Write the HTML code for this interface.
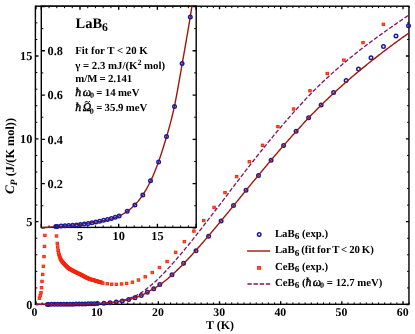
<!DOCTYPE html>
<html><head><meta charset="utf-8"><title>LaB6 / CeB6 specific heat</title>
<style>html,body{margin:0;padding:0;background:#fff;width:415px;height:334px;overflow:hidden;font-family:"Liberation Serif",serif}</style>
</head><body>
<svg width="415" height="334" viewBox="0 0 415 334" style="display:block;position:absolute;left:0;top:0;will-change:transform" font-family="'Liberation Serif', serif" font-weight="bold" text-rendering="geometricPrecision">
<rect width="415" height="334" fill="#fff"/>
<defs>
<clipPath id="cm"><rect x="35.4" y="6.2" width="373.55" height="299.1"/></clipPath>
<clipPath id="ci"><rect x="41.3" y="6.2" width="154.89999999999998" height="222.20000000000002"/></clipPath>
</defs>
<path d="M36.00 304.3 v-3.1 M36.00 6.2 v3.1 M97.17 304.3 v-3.1 M97.17 6.2 v3.1 M158.34 304.3 v-3.1 M158.34 6.2 v3.1 M219.51 304.3 v-3.1 M219.51 6.2 v3.1 M280.68 304.3 v-3.1 M280.68 6.2 v3.1 M341.85 304.3 v-3.1 M341.85 6.2 v3.1 M403.02 304.3 v-3.1 M403.02 6.2 v3.1 M35.4 304.50 h3.1 M408.95 304.50 h-3.1 M35.4 221.67 h3.1 M408.95 221.67 h-3.1 M35.4 138.84 h3.1 M408.95 138.84 h-3.1 M35.4 56.01 h3.1 M408.95 56.01 h-3.1" stroke="#000" stroke-width="1.35" fill="none"/>
<path d="M42.12 304.3 v-1.9 M42.12 6.2 v1.9 M48.23 304.3 v-1.9 M48.23 6.2 v1.9 M54.35 304.3 v-1.9 M54.35 6.2 v1.9 M60.47 304.3 v-1.9 M60.47 6.2 v1.9 M66.59 304.3 v-1.9 M66.59 6.2 v1.9 M72.70 304.3 v-1.9 M72.70 6.2 v1.9 M78.82 304.3 v-1.9 M78.82 6.2 v1.9 M84.94 304.3 v-1.9 M84.94 6.2 v1.9 M91.05 304.3 v-1.9 M91.05 6.2 v1.9 M103.29 304.3 v-1.9 M103.29 6.2 v1.9 M109.40 304.3 v-1.9 M109.40 6.2 v1.9 M115.52 304.3 v-1.9 M115.52 6.2 v1.9 M121.64 304.3 v-1.9 M121.64 6.2 v1.9 M127.75 304.3 v-1.9 M127.75 6.2 v1.9 M133.87 304.3 v-1.9 M133.87 6.2 v1.9 M139.99 304.3 v-1.9 M139.99 6.2 v1.9 M146.11 304.3 v-1.9 M146.11 6.2 v1.9 M152.22 304.3 v-1.9 M152.22 6.2 v1.9 M164.46 304.3 v-1.9 M164.46 6.2 v1.9 M170.57 304.3 v-1.9 M170.57 6.2 v1.9 M176.69 304.3 v-1.9 M176.69 6.2 v1.9 M182.81 304.3 v-1.9 M182.81 6.2 v1.9 M188.93 304.3 v-1.9 M188.93 6.2 v1.9 M195.04 304.3 v-1.9 M195.04 6.2 v1.9 M201.16 304.3 v-1.9 M201.16 6.2 v1.9 M207.28 304.3 v-1.9 M207.28 6.2 v1.9 M213.39 304.3 v-1.9 M213.39 6.2 v1.9 M225.63 304.3 v-1.9 M225.63 6.2 v1.9 M231.74 304.3 v-1.9 M231.74 6.2 v1.9 M237.86 304.3 v-1.9 M237.86 6.2 v1.9 M243.98 304.3 v-1.9 M243.98 6.2 v1.9 M250.09 304.3 v-1.9 M250.09 6.2 v1.9 M256.21 304.3 v-1.9 M256.21 6.2 v1.9 M262.33 304.3 v-1.9 M262.33 6.2 v1.9 M268.45 304.3 v-1.9 M268.45 6.2 v1.9 M274.56 304.3 v-1.9 M274.56 6.2 v1.9 M286.80 304.3 v-1.9 M286.80 6.2 v1.9 M292.91 304.3 v-1.9 M292.91 6.2 v1.9 M299.03 304.3 v-1.9 M299.03 6.2 v1.9 M305.15 304.3 v-1.9 M305.15 6.2 v1.9 M311.26 304.3 v-1.9 M311.26 6.2 v1.9 M317.38 304.3 v-1.9 M317.38 6.2 v1.9 M323.50 304.3 v-1.9 M323.50 6.2 v1.9 M329.62 304.3 v-1.9 M329.62 6.2 v1.9 M335.73 304.3 v-1.9 M335.73 6.2 v1.9 M347.97 304.3 v-1.9 M347.97 6.2 v1.9 M354.08 304.3 v-1.9 M354.08 6.2 v1.9 M360.20 304.3 v-1.9 M360.20 6.2 v1.9 M366.32 304.3 v-1.9 M366.32 6.2 v1.9 M372.44 304.3 v-1.9 M372.44 6.2 v1.9 M378.55 304.3 v-1.9 M378.55 6.2 v1.9 M384.67 304.3 v-1.9 M384.67 6.2 v1.9 M390.79 304.3 v-1.9 M390.79 6.2 v1.9 M396.90 304.3 v-1.9 M396.90 6.2 v1.9 M409.14 304.3 v-1.9 M409.14 6.2 v1.9 M35.4 287.93 h1.9 M408.95 287.93 h-1.9 M35.4 271.37 h1.9 M408.95 271.37 h-1.9 M35.4 254.80 h1.9 M408.95 254.80 h-1.9 M35.4 238.24 h1.9 M408.95 238.24 h-1.9 M35.4 205.10 h1.9 M408.95 205.10 h-1.9 M35.4 188.54 h1.9 M408.95 188.54 h-1.9 M35.4 171.97 h1.9 M408.95 171.97 h-1.9 M35.4 155.41 h1.9 M408.95 155.41 h-1.9 M35.4 122.27 h1.9 M408.95 122.27 h-1.9 M35.4 105.71 h1.9 M408.95 105.71 h-1.9 M35.4 89.14 h1.9 M408.95 89.14 h-1.9 M35.4 72.58 h1.9 M408.95 72.58 h-1.9 M35.4 39.44 h1.9 M408.95 39.44 h-1.9 M35.4 22.88 h1.9 M408.95 22.88 h-1.9 M35.4 6.31 h1.9 M408.95 6.31 h-1.9" stroke="#000" stroke-width="1.0" fill="none"/>
<rect x="35.4" y="6.2" width="373.55" height="298.1" fill="none" stroke="#000" stroke-width="1.4"/>
<circle cx="47.44" cy="304.40" r="1.75" fill="none" stroke="#1a1a9e" stroke-width="1.5"/>
<circle cx="48.54" cy="304.39" r="1.75" fill="none" stroke="#1a1a9e" stroke-width="1.5"/>
<circle cx="51.60" cy="304.37" r="1.75" fill="none" stroke="#1a1a9e" stroke-width="1.5"/>
<circle cx="54.66" cy="304.35" r="1.75" fill="none" stroke="#1a1a9e" stroke-width="1.5"/>
<circle cx="57.72" cy="304.33" r="1.75" fill="none" stroke="#1a1a9e" stroke-width="1.5"/>
<circle cx="60.77" cy="304.30" r="1.75" fill="none" stroke="#1a1a9e" stroke-width="1.5"/>
<circle cx="63.83" cy="304.28" r="1.75" fill="none" stroke="#1a1a9e" stroke-width="1.5"/>
<circle cx="66.89" cy="304.25" r="1.75" fill="none" stroke="#1a1a9e" stroke-width="1.5"/>
<circle cx="69.95" cy="304.21" r="1.75" fill="none" stroke="#1a1a9e" stroke-width="1.5"/>
<circle cx="73.01" cy="304.17" r="1.75" fill="none" stroke="#1a1a9e" stroke-width="1.5"/>
<circle cx="76.07" cy="304.11" r="1.75" fill="none" stroke="#1a1a9e" stroke-width="1.5"/>
<circle cx="79.12" cy="304.06" r="1.75" fill="none" stroke="#1a1a9e" stroke-width="1.5"/>
<circle cx="82.18" cy="304.00" r="1.75" fill="none" stroke="#1a1a9e" stroke-width="1.5"/>
<circle cx="85.24" cy="303.93" r="1.75" fill="none" stroke="#1a1a9e" stroke-width="1.5"/>
<circle cx="88.30" cy="303.87" r="1.75" fill="none" stroke="#1a1a9e" stroke-width="1.5"/>
<circle cx="91.36" cy="303.79" r="1.75" fill="none" stroke="#1a1a9e" stroke-width="1.5"/>
<circle cx="94.42" cy="303.71" r="1.75" fill="none" stroke="#1a1a9e" stroke-width="1.5"/>
<circle cx="97.48" cy="303.61" r="1.75" fill="none" stroke="#1a1a9e" stroke-width="1.5"/>
<circle cx="103.89" cy="303.26" r="1.75" fill="none" stroke="#1a1a9e" stroke-width="1.5"/>
<circle cx="109.97" cy="302.78" r="1.75" fill="none" stroke="#1a1a9e" stroke-width="1.5"/>
<circle cx="116.22" cy="302.05" r="1.75" fill="none" stroke="#1a1a9e" stroke-width="1.5"/>
<circle cx="122.30" cy="300.98" r="1.75" fill="none" stroke="#1a1a9e" stroke-width="1.5"/>
<circle cx="128.70" cy="299.58" r="1.75" fill="none" stroke="#1a1a9e" stroke-width="1.5"/>
<circle cx="134.95" cy="297.65" r="1.75" fill="none" stroke="#1a1a9e" stroke-width="1.5"/>
<circle cx="141.27" cy="295.41" r="1.75" fill="none" stroke="#1a1a9e" stroke-width="1.5"/>
<circle cx="147.28" cy="292.21" r="1.75" fill="none" stroke="#1a1a9e" stroke-width="1.5"/>
<circle cx="153.76" cy="288.72" r="1.75" fill="none" stroke="#1a1a9e" stroke-width="1.5"/>
<circle cx="159.80" cy="284.40" r="1.75" fill="none" stroke="#1a1a9e" stroke-width="1.5"/>
<circle cx="172.00" cy="274.70" r="1.75" fill="none" stroke="#1a1a9e" stroke-width="1.5"/>
<circle cx="183.60" cy="263.20" r="1.75" fill="none" stroke="#1a1a9e" stroke-width="1.5"/>
<circle cx="196.00" cy="250.70" r="1.75" fill="none" stroke="#1a1a9e" stroke-width="1.5"/>
<circle cx="208.60" cy="236.30" r="1.75" fill="none" stroke="#1a1a9e" stroke-width="1.5"/>
<circle cx="221.10" cy="220.90" r="1.75" fill="none" stroke="#1a1a9e" stroke-width="1.5"/>
<circle cx="233.50" cy="205.40" r="1.75" fill="none" stroke="#1a1a9e" stroke-width="1.5"/>
<circle cx="246.00" cy="190.20" r="1.75" fill="none" stroke="#1a1a9e" stroke-width="1.5"/>
<circle cx="258.50" cy="175.50" r="1.75" fill="none" stroke="#1a1a9e" stroke-width="1.5"/>
<circle cx="271.10" cy="160.20" r="1.75" fill="none" stroke="#1a1a9e" stroke-width="1.5"/>
<circle cx="283.60" cy="145.50" r="1.75" fill="none" stroke="#1a1a9e" stroke-width="1.5"/>
<circle cx="296.10" cy="131.30" r="1.75" fill="none" stroke="#1a1a9e" stroke-width="1.5"/>
<circle cx="308.60" cy="117.70" r="1.75" fill="none" stroke="#1a1a9e" stroke-width="1.5"/>
<circle cx="321.10" cy="105.00" r="1.75" fill="none" stroke="#1a1a9e" stroke-width="1.5"/>
<circle cx="333.60" cy="92.60" r="1.75" fill="none" stroke="#1a1a9e" stroke-width="1.5"/>
<circle cx="346.10" cy="80.50" r="1.75" fill="none" stroke="#1a1a9e" stroke-width="1.5"/>
<circle cx="358.50" cy="69.00" r="1.75" fill="none" stroke="#1a1a9e" stroke-width="1.5"/>
<circle cx="371.00" cy="57.70" r="1.75" fill="none" stroke="#1a1a9e" stroke-width="1.5"/>
<circle cx="383.50" cy="46.60" r="1.75" fill="none" stroke="#1a1a9e" stroke-width="1.5"/>
<circle cx="396.00" cy="35.90" r="1.75" fill="none" stroke="#1a1a9e" stroke-width="1.5"/>
<circle cx="408.50" cy="25.70" r="1.75" fill="none" stroke="#1a1a9e" stroke-width="1.5"/>
<path clip-path="url(#cm)" d="M36.00 304.50 L36.94 304.49 L37.89 304.48 L38.83 304.48 L39.77 304.47 L40.71 304.46 L41.66 304.46 L42.60 304.45 L43.54 304.44 L44.49 304.43 L45.43 304.43 L46.37 304.42 L47.31 304.41 L48.26 304.41 L49.20 304.40 L50.14 304.39 L51.09 304.38 L52.03 304.37 L52.97 304.37 L53.91 304.36 L54.86 304.35 L55.80 304.34 L56.74 304.33 L57.69 304.32 L58.63 304.31 L59.57 304.31 L60.51 304.30 L61.46 304.29 L62.40 304.28 L63.34 304.27 L64.29 304.26 L65.23 304.25 L66.17 304.24 L67.11 304.22 L68.06 304.21 L69.00 304.20 L69.94 304.19 L70.89 304.18 L71.83 304.17 L72.77 304.15 L73.71 304.14 L74.66 304.13 L75.60 304.11 L76.54 304.10 L77.49 304.09 L78.43 304.07 L79.37 304.06 L80.31 304.04 L81.26 304.03 L82.20 304.01 L83.14 304.00 L84.09 303.98 L85.03 303.96 L85.97 303.95 L86.91 303.93 L87.86 303.91 L88.80 303.89 L89.74 303.86 L90.69 303.84 L91.63 303.82 L92.57 303.79 L93.51 303.76 L94.46 303.73 L95.40 303.69 L96.34 303.66 L97.28 303.62 L98.23 303.58 L99.17 303.53 L100.11 303.48 L101.06 303.43 L102.00 303.38 L102.94 303.32 L103.88 303.26 L104.83 303.20 L105.77 303.13 L106.71 303.06 L107.66 302.98 L108.60 302.90 L109.54 302.81 L110.48 302.72 L111.43 302.62 L112.37 302.52 L113.31 302.41 L114.26 302.29 L115.20 302.17 L116.14 302.04 L117.08 301.91 L118.03 301.76 L118.97 301.61 L119.91 301.45 L120.86 301.28 L121.80 301.11 L122.74 300.92 L123.68 300.73 L124.63 300.53 L125.57 300.32 L126.51 300.09 L127.46 299.86 L128.40 299.62 L129.34 299.37 L130.28 299.10 L131.23 298.83 L132.17 298.55 L133.11 298.27 L134.06 297.97 L135.00 297.67 L135.94 297.37 L136.88 297.06 L137.83 296.73 L138.77 296.39 L139.71 296.03 L140.66 295.64 L141.60 295.22 L142.54 294.77 L143.48 294.29 L144.43 293.80 L145.37 293.29 L146.31 292.78 L147.26 292.27 L148.20 291.76 L149.14 291.25 L150.08 290.74 L151.03 290.23 L151.97 289.70 L152.91 289.17 L153.86 288.62 L154.80 288.06 L155.74 287.47 L156.68 286.87 L157.63 286.26 L158.57 285.62 L159.51 284.97 L160.46 284.30 L161.40 283.62 L162.34 282.92 L163.28 282.21 L164.23 281.48 L165.17 280.73 L166.11 279.97 L167.06 279.20 L168.00 278.42 L168.94 277.62 L169.88 276.80 L170.83 275.98 L171.77 275.14 L172.71 274.29 L173.66 273.43 L174.60 272.55 L175.54 271.67 L176.48 270.77 L177.43 269.87 L178.37 268.95 L179.31 268.02 L180.26 267.09 L181.20 266.14 L182.14 265.18 L183.08 264.22 L184.03 263.25 L184.97 262.27 L185.91 261.28 L186.86 260.28 L187.80 259.28 L188.74 258.26 L189.68 257.25 L190.63 256.22 L191.57 255.19 L192.51 254.16 L193.46 253.11 L194.40 252.07 L195.34 251.01 L196.28 249.96 L197.23 248.90 L198.17 247.83 L199.11 246.76 L200.06 245.69 L201.00 244.61 L201.94 243.53 L202.88 242.45 L203.83 241.36 L204.77 240.27 L205.71 239.17 L206.66 238.07 L207.60 236.97 L208.54 235.86 L209.48 234.76 L210.43 233.64 L211.37 232.53 L212.31 231.41 L213.26 230.29 L214.20 229.17 L215.14 228.04 L216.08 226.92 L217.03 225.79 L217.97 224.65 L218.91 223.52 L219.85 222.38 L220.80 221.24 L221.74 220.10 L222.68 218.96 L223.63 217.82 L224.57 216.67 L225.51 215.52 L226.45 214.37 L227.40 213.22 L228.34 212.07 L229.28 210.92 L230.23 209.77 L231.17 208.61 L232.11 207.46 L233.05 206.30 L234.00 205.14 L234.94 203.99 L235.88 202.83 L236.83 201.67 L237.77 200.51 L238.71 199.35 L239.65 198.20 L240.60 197.04 L241.54 195.88 L242.48 194.72 L243.43 193.56 L244.37 192.40 L245.31 191.25 L246.25 190.09 L247.20 188.93 L248.14 187.78 L249.08 186.62 L250.03 185.47 L250.97 184.32 L251.91 183.17 L252.85 182.02 L253.80 180.87 L254.74 179.72 L255.68 178.57 L256.63 177.43 L257.57 176.29 L258.51 175.15 L259.45 174.01 L260.40 172.87 L261.34 171.73 L262.28 170.60 L263.23 169.47 L264.17 168.34 L265.11 167.21 L266.05 166.09 L267.00 164.97 L267.94 163.84 L268.88 162.73 L269.83 161.61 L270.77 160.49 L271.71 159.38 L272.65 158.27 L273.60 157.16 L274.54 156.06 L275.48 154.96 L276.43 153.86 L277.37 152.76 L278.31 151.66 L279.25 150.57 L280.20 149.48 L281.14 148.39 L282.08 147.30 L283.03 146.22 L283.97 145.14 L284.91 144.06 L285.85 142.98 L286.80 141.91 L287.74 140.84 L288.68 139.77 L289.63 138.71 L290.57 137.65 L291.51 136.59 L292.45 135.53 L293.40 134.48 L294.34 133.43 L295.28 132.38 L296.23 131.34 L297.17 130.29 L298.11 129.25 L299.05 128.22 L300.00 127.19 L300.94 126.16 L301.88 125.13 L302.83 124.11 L303.77 123.09 L304.71 122.07 L305.65 121.06 L306.60 120.04 L307.54 119.04 L308.48 118.03 L309.43 117.04 L310.37 116.05 L311.31 115.07 L312.25 114.10 L313.20 113.13 L314.14 112.16 L315.08 111.20 L316.03 110.25 L316.97 109.30 L317.91 108.36 L318.85 107.42 L319.80 106.48 L320.74 105.55 L321.68 104.62 L322.63 103.70 L323.57 102.79 L324.51 101.87 L325.45 100.97 L326.40 100.06 L327.34 99.16 L328.28 98.27 L329.23 97.37 L330.17 96.49 L331.11 95.60 L332.05 94.72 L333.00 93.85 L333.94 92.97 L334.88 92.11 L335.82 91.24 L336.77 90.38 L337.71 89.52 L338.65 88.67 L339.60 87.82 L340.54 86.97 L341.48 86.13 L342.42 85.29 L343.37 84.45 L344.31 83.62 L345.25 82.79 L346.20 81.97 L347.14 81.14 L348.08 80.32 L349.02 79.51 L349.97 78.70 L350.91 77.89 L351.85 77.08 L352.80 76.28 L353.74 75.48 L354.68 74.68 L355.62 73.88 L356.57 73.09 L357.51 72.31 L358.45 71.52 L359.40 70.74 L360.34 69.96 L361.28 69.18 L362.22 68.41 L363.17 67.64 L364.11 66.87 L365.05 66.10 L366.00 65.34 L366.94 64.58 L367.88 63.82 L368.82 63.07 L369.77 62.31 L370.71 61.56 L371.65 60.82 L372.60 60.07 L373.54 59.33 L374.48 58.59 L375.42 57.85 L376.37 57.11 L377.31 56.38 L378.25 55.65 L379.20 54.92 L380.14 54.19 L381.08 53.47 L382.02 52.75 L382.97 52.03 L383.91 51.31 L384.85 50.60 L385.80 49.88 L386.74 49.17 L387.68 48.46 L388.62 47.75 L389.57 47.05 L390.51 46.35 L391.45 45.64 L392.40 44.94 L393.34 44.25 L394.28 43.55 L395.22 42.86 L396.17 42.16 L397.11 41.47 L398.05 40.78 L399.00 40.10 L399.94 39.41 L400.88 38.73 L401.82 38.04 L402.77 37.36 L403.71 36.68 L404.65 36.01 L405.60 35.33 L406.54 34.66 L407.48 33.98 L408.42 33.31 L409.37 32.64 L410.31 31.97 L411.25 31.30 L412.20 30.64" fill="none" stroke="#9e170b" stroke-width="1.4"/>
<rect x="38.15" y="297.00" width="2.5" height="2.4" fill="#ff5c2c" stroke="#f7220a" stroke-width="0.9"/>
<rect x="38.95" y="294.50" width="2.5" height="2.4" fill="#ff5c2c" stroke="#f7220a" stroke-width="0.9"/>
<rect x="39.75" y="291.50" width="2.5" height="2.4" fill="#ff5c2c" stroke="#f7220a" stroke-width="0.9"/>
<rect x="40.25" y="286.50" width="2.5" height="2.4" fill="#ff5c2c" stroke="#f7220a" stroke-width="0.9"/>
<rect x="40.75" y="280.20" width="2.5" height="2.4" fill="#ff5c2c" stroke="#f7220a" stroke-width="0.9"/>
<rect x="41.45" y="273.20" width="2.5" height="2.4" fill="#ff5c2c" stroke="#f7220a" stroke-width="0.9"/>
<rect x="42.15" y="265.10" width="2.5" height="2.4" fill="#ff5c2c" stroke="#f7220a" stroke-width="0.9"/>
<rect x="42.75" y="255.40" width="2.5" height="2.4" fill="#ff5c2c" stroke="#f7220a" stroke-width="0.9"/>
<rect x="43.25" y="245.20" width="2.5" height="2.4" fill="#ff5c2c" stroke="#f7220a" stroke-width="0.9"/>
<rect x="43.65" y="234.20" width="2.5" height="2.4" fill="#ff5c2c" stroke="#f7220a" stroke-width="0.9"/>
<rect x="55.25" y="234.80" width="2.5" height="2.4" fill="#ff5c2c" stroke="#f7220a" stroke-width="0.9"/>
<rect x="56.05" y="242.20" width="2.5" height="2.4" fill="#ff5c2c" stroke="#f7220a" stroke-width="0.9"/>
<rect x="56.45" y="245.80" width="2.5" height="2.4" fill="#ff5c2c" stroke="#f7220a" stroke-width="0.9"/>
<rect x="56.85" y="249.05" width="2.5" height="2.4" fill="#ff5c2c" stroke="#f7220a" stroke-width="0.9"/>
<rect x="57.25" y="251.31" width="2.5" height="2.4" fill="#ff5c2c" stroke="#f7220a" stroke-width="0.9"/>
<rect x="57.65" y="253.01" width="2.5" height="2.4" fill="#ff5c2c" stroke="#f7220a" stroke-width="0.9"/>
<rect x="58.05" y="254.39" width="2.5" height="2.4" fill="#ff5c2c" stroke="#f7220a" stroke-width="0.9"/>
<rect x="58.45" y="255.57" width="2.5" height="2.4" fill="#ff5c2c" stroke="#f7220a" stroke-width="0.9"/>
<rect x="58.85" y="256.63" width="2.5" height="2.4" fill="#ff5c2c" stroke="#f7220a" stroke-width="0.9"/>
<rect x="59.25" y="257.57" width="2.5" height="2.4" fill="#ff5c2c" stroke="#f7220a" stroke-width="0.9"/>
<rect x="59.65" y="258.39" width="2.5" height="2.4" fill="#ff5c2c" stroke="#f7220a" stroke-width="0.9"/>
<rect x="60.05" y="259.10" width="2.5" height="2.4" fill="#ff5c2c" stroke="#f7220a" stroke-width="0.9"/>
<rect x="60.45" y="259.72" width="2.5" height="2.4" fill="#ff5c2c" stroke="#f7220a" stroke-width="0.9"/>
<rect x="60.85" y="260.28" width="2.5" height="2.4" fill="#ff5c2c" stroke="#f7220a" stroke-width="0.9"/>
<rect x="61.25" y="260.80" width="2.5" height="2.4" fill="#ff5c2c" stroke="#f7220a" stroke-width="0.9"/>
<rect x="61.65" y="261.27" width="2.5" height="2.4" fill="#ff5c2c" stroke="#f7220a" stroke-width="0.9"/>
<rect x="62.05" y="261.72" width="2.5" height="2.4" fill="#ff5c2c" stroke="#f7220a" stroke-width="0.9"/>
<rect x="62.45" y="262.15" width="2.5" height="2.4" fill="#ff5c2c" stroke="#f7220a" stroke-width="0.9"/>
<rect x="62.85" y="262.57" width="2.5" height="2.4" fill="#ff5c2c" stroke="#f7220a" stroke-width="0.9"/>
<rect x="63.25" y="263.00" width="2.5" height="2.4" fill="#ff5c2c" stroke="#f7220a" stroke-width="0.9"/>
<rect x="63.65" y="263.43" width="2.5" height="2.4" fill="#ff5c2c" stroke="#f7220a" stroke-width="0.9"/>
<rect x="64.05" y="263.86" width="2.5" height="2.4" fill="#ff5c2c" stroke="#f7220a" stroke-width="0.9"/>
<rect x="64.45" y="264.28" width="2.5" height="2.4" fill="#ff5c2c" stroke="#f7220a" stroke-width="0.9"/>
<rect x="64.85" y="264.69" width="2.5" height="2.4" fill="#ff5c2c" stroke="#f7220a" stroke-width="0.9"/>
<rect x="65.25" y="265.09" width="2.5" height="2.4" fill="#ff5c2c" stroke="#f7220a" stroke-width="0.9"/>
<rect x="65.65" y="265.48" width="2.5" height="2.4" fill="#ff5c2c" stroke="#f7220a" stroke-width="0.9"/>
<rect x="66.05" y="265.86" width="2.5" height="2.4" fill="#ff5c2c" stroke="#f7220a" stroke-width="0.9"/>
<rect x="66.45" y="266.22" width="2.5" height="2.4" fill="#ff5c2c" stroke="#f7220a" stroke-width="0.9"/>
<rect x="66.85" y="266.56" width="2.5" height="2.4" fill="#ff5c2c" stroke="#f7220a" stroke-width="0.9"/>
<rect x="67.25" y="266.88" width="2.5" height="2.4" fill="#ff5c2c" stroke="#f7220a" stroke-width="0.9"/>
<rect x="67.65" y="267.17" width="2.5" height="2.4" fill="#ff5c2c" stroke="#f7220a" stroke-width="0.9"/>
<rect x="68.05" y="267.45" width="2.5" height="2.4" fill="#ff5c2c" stroke="#f7220a" stroke-width="0.9"/>
<rect x="68.45" y="267.71" width="2.5" height="2.4" fill="#ff5c2c" stroke="#f7220a" stroke-width="0.9"/>
<rect x="68.85" y="267.97" width="2.5" height="2.4" fill="#ff5c2c" stroke="#f7220a" stroke-width="0.9"/>
<rect x="69.25" y="268.21" width="2.5" height="2.4" fill="#ff5c2c" stroke="#f7220a" stroke-width="0.9"/>
<rect x="69.65" y="268.44" width="2.5" height="2.4" fill="#ff5c2c" stroke="#f7220a" stroke-width="0.9"/>
<rect x="70.05" y="268.67" width="2.5" height="2.4" fill="#ff5c2c" stroke="#f7220a" stroke-width="0.9"/>
<rect x="70.45" y="268.89" width="2.5" height="2.4" fill="#ff5c2c" stroke="#f7220a" stroke-width="0.9"/>
<rect x="70.85" y="269.10" width="2.5" height="2.4" fill="#ff5c2c" stroke="#f7220a" stroke-width="0.9"/>
<rect x="71.25" y="269.31" width="2.5" height="2.4" fill="#ff5c2c" stroke="#f7220a" stroke-width="0.9"/>
<rect x="71.65" y="269.52" width="2.5" height="2.4" fill="#ff5c2c" stroke="#f7220a" stroke-width="0.9"/>
<rect x="72.05" y="269.73" width="2.5" height="2.4" fill="#ff5c2c" stroke="#f7220a" stroke-width="0.9"/>
<rect x="72.45" y="269.93" width="2.5" height="2.4" fill="#ff5c2c" stroke="#f7220a" stroke-width="0.9"/>
<rect x="72.85" y="270.14" width="2.5" height="2.4" fill="#ff5c2c" stroke="#f7220a" stroke-width="0.9"/>
<rect x="73.25" y="270.35" width="2.5" height="2.4" fill="#ff5c2c" stroke="#f7220a" stroke-width="0.9"/>
<rect x="73.65" y="270.56" width="2.5" height="2.4" fill="#ff5c2c" stroke="#f7220a" stroke-width="0.9"/>
<rect x="74.05" y="270.76" width="2.5" height="2.4" fill="#ff5c2c" stroke="#f7220a" stroke-width="0.9"/>
<rect x="74.45" y="270.97" width="2.5" height="2.4" fill="#ff5c2c" stroke="#f7220a" stroke-width="0.9"/>
<rect x="74.85" y="271.17" width="2.5" height="2.4" fill="#ff5c2c" stroke="#f7220a" stroke-width="0.9"/>
<rect x="75.25" y="271.37" width="2.5" height="2.4" fill="#ff5c2c" stroke="#f7220a" stroke-width="0.9"/>
<rect x="75.65" y="271.56" width="2.5" height="2.4" fill="#ff5c2c" stroke="#f7220a" stroke-width="0.9"/>
<rect x="76.05" y="271.76" width="2.5" height="2.4" fill="#ff5c2c" stroke="#f7220a" stroke-width="0.9"/>
<rect x="76.45" y="271.95" width="2.5" height="2.4" fill="#ff5c2c" stroke="#f7220a" stroke-width="0.9"/>
<rect x="76.85" y="272.14" width="2.5" height="2.4" fill="#ff5c2c" stroke="#f7220a" stroke-width="0.9"/>
<rect x="77.25" y="272.34" width="2.5" height="2.4" fill="#ff5c2c" stroke="#f7220a" stroke-width="0.9"/>
<rect x="77.65" y="272.53" width="2.5" height="2.4" fill="#ff5c2c" stroke="#f7220a" stroke-width="0.9"/>
<rect x="78.05" y="272.72" width="2.5" height="2.4" fill="#ff5c2c" stroke="#f7220a" stroke-width="0.9"/>
<rect x="78.45" y="272.91" width="2.5" height="2.4" fill="#ff5c2c" stroke="#f7220a" stroke-width="0.9"/>
<rect x="78.85" y="273.11" width="2.5" height="2.4" fill="#ff5c2c" stroke="#f7220a" stroke-width="0.9"/>
<rect x="79.25" y="273.30" width="2.5" height="2.4" fill="#ff5c2c" stroke="#f7220a" stroke-width="0.9"/>
<rect x="79.65" y="273.50" width="2.5" height="2.4" fill="#ff5c2c" stroke="#f7220a" stroke-width="0.9"/>
<rect x="80.05" y="273.70" width="2.5" height="2.4" fill="#ff5c2c" stroke="#f7220a" stroke-width="0.9"/>
<rect x="80.45" y="273.91" width="2.5" height="2.4" fill="#ff5c2c" stroke="#f7220a" stroke-width="0.9"/>
<rect x="80.85" y="274.11" width="2.5" height="2.4" fill="#ff5c2c" stroke="#f7220a" stroke-width="0.9"/>
<rect x="81.25" y="274.33" width="2.5" height="2.4" fill="#ff5c2c" stroke="#f7220a" stroke-width="0.9"/>
<rect x="81.65" y="274.54" width="2.5" height="2.4" fill="#ff5c2c" stroke="#f7220a" stroke-width="0.9"/>
<rect x="82.05" y="274.76" width="2.5" height="2.4" fill="#ff5c2c" stroke="#f7220a" stroke-width="0.9"/>
<rect x="82.45" y="274.98" width="2.5" height="2.4" fill="#ff5c2c" stroke="#f7220a" stroke-width="0.9"/>
<rect x="82.85" y="275.20" width="2.5" height="2.4" fill="#ff5c2c" stroke="#f7220a" stroke-width="0.9"/>
<rect x="83.25" y="275.42" width="2.5" height="2.4" fill="#ff5c2c" stroke="#f7220a" stroke-width="0.9"/>
<rect x="83.65" y="275.63" width="2.5" height="2.4" fill="#ff5c2c" stroke="#f7220a" stroke-width="0.9"/>
<rect x="84.05" y="275.85" width="2.5" height="2.4" fill="#ff5c2c" stroke="#f7220a" stroke-width="0.9"/>
<rect x="84.45" y="276.06" width="2.5" height="2.4" fill="#ff5c2c" stroke="#f7220a" stroke-width="0.9"/>
<rect x="84.85" y="276.26" width="2.5" height="2.4" fill="#ff5c2c" stroke="#f7220a" stroke-width="0.9"/>
<rect x="85.25" y="276.46" width="2.5" height="2.4" fill="#ff5c2c" stroke="#f7220a" stroke-width="0.9"/>
<rect x="85.65" y="276.66" width="2.5" height="2.4" fill="#ff5c2c" stroke="#f7220a" stroke-width="0.9"/>
<rect x="86.05" y="276.85" width="2.5" height="2.4" fill="#ff5c2c" stroke="#f7220a" stroke-width="0.9"/>
<rect x="86.45" y="277.03" width="2.5" height="2.4" fill="#ff5c2c" stroke="#f7220a" stroke-width="0.9"/>
<rect x="86.85" y="277.20" width="2.5" height="2.4" fill="#ff5c2c" stroke="#f7220a" stroke-width="0.9"/>
<rect x="87.25" y="277.36" width="2.5" height="2.4" fill="#ff5c2c" stroke="#f7220a" stroke-width="0.9"/>
<rect x="87.65" y="277.51" width="2.5" height="2.4" fill="#ff5c2c" stroke="#f7220a" stroke-width="0.9"/>
<rect x="88.05" y="277.66" width="2.5" height="2.4" fill="#ff5c2c" stroke="#f7220a" stroke-width="0.9"/>
<rect x="88.45" y="277.80" width="2.5" height="2.4" fill="#ff5c2c" stroke="#f7220a" stroke-width="0.9"/>
<rect x="88.85" y="277.94" width="2.5" height="2.4" fill="#ff5c2c" stroke="#f7220a" stroke-width="0.9"/>
<rect x="89.25" y="278.08" width="2.5" height="2.4" fill="#ff5c2c" stroke="#f7220a" stroke-width="0.9"/>
<rect x="89.65" y="278.20" width="2.5" height="2.4" fill="#ff5c2c" stroke="#f7220a" stroke-width="0.9"/>
<rect x="90.05" y="278.33" width="2.5" height="2.4" fill="#ff5c2c" stroke="#f7220a" stroke-width="0.9"/>
<rect x="90.45" y="278.45" width="2.5" height="2.4" fill="#ff5c2c" stroke="#f7220a" stroke-width="0.9"/>
<rect x="90.85" y="278.57" width="2.5" height="2.4" fill="#ff5c2c" stroke="#f7220a" stroke-width="0.9"/>
<rect x="91.25" y="278.69" width="2.5" height="2.4" fill="#ff5c2c" stroke="#f7220a" stroke-width="0.9"/>
<rect x="91.65" y="278.81" width="2.5" height="2.4" fill="#ff5c2c" stroke="#f7220a" stroke-width="0.9"/>
<rect x="92.05" y="278.93" width="2.5" height="2.4" fill="#ff5c2c" stroke="#f7220a" stroke-width="0.9"/>
<rect x="92.45" y="279.04" width="2.5" height="2.4" fill="#ff5c2c" stroke="#f7220a" stroke-width="0.9"/>
<rect x="92.85" y="279.16" width="2.5" height="2.4" fill="#ff5c2c" stroke="#f7220a" stroke-width="0.9"/>
<rect x="93.25" y="279.27" width="2.5" height="2.4" fill="#ff5c2c" stroke="#f7220a" stroke-width="0.9"/>
<rect x="93.65" y="279.39" width="2.5" height="2.4" fill="#ff5c2c" stroke="#f7220a" stroke-width="0.9"/>
<rect x="94.05" y="279.50" width="2.5" height="2.4" fill="#ff5c2c" stroke="#f7220a" stroke-width="0.9"/>
<rect x="94.45" y="279.62" width="2.5" height="2.4" fill="#ff5c2c" stroke="#f7220a" stroke-width="0.9"/>
<rect x="94.85" y="279.74" width="2.5" height="2.4" fill="#ff5c2c" stroke="#f7220a" stroke-width="0.9"/>
<rect x="95.25" y="279.86" width="2.5" height="2.4" fill="#ff5c2c" stroke="#f7220a" stroke-width="0.9"/>
<rect x="95.65" y="279.98" width="2.5" height="2.4" fill="#ff5c2c" stroke="#f7220a" stroke-width="0.9"/>
<rect x="96.05" y="280.10" width="2.5" height="2.4" fill="#ff5c2c" stroke="#f7220a" stroke-width="0.9"/>
<rect x="96.45" y="280.22" width="2.5" height="2.4" fill="#ff5c2c" stroke="#f7220a" stroke-width="0.9"/>
<rect x="96.85" y="280.34" width="2.5" height="2.4" fill="#ff5c2c" stroke="#f7220a" stroke-width="0.9"/>
<rect x="97.25" y="280.46" width="2.5" height="2.4" fill="#ff5c2c" stroke="#f7220a" stroke-width="0.9"/>
<rect x="97.65" y="280.58" width="2.5" height="2.4" fill="#ff5c2c" stroke="#f7220a" stroke-width="0.9"/>
<rect x="98.05" y="280.70" width="2.5" height="2.4" fill="#ff5c2c" stroke="#f7220a" stroke-width="0.9"/>
<rect x="98.45" y="280.82" width="2.5" height="2.4" fill="#ff5c2c" stroke="#f7220a" stroke-width="0.9"/>
<rect x="98.85" y="280.94" width="2.5" height="2.4" fill="#ff5c2c" stroke="#f7220a" stroke-width="0.9"/>
<rect x="99.25" y="281.06" width="2.5" height="2.4" fill="#ff5c2c" stroke="#f7220a" stroke-width="0.9"/>
<rect x="99.65" y="281.18" width="2.5" height="2.4" fill="#ff5c2c" stroke="#f7220a" stroke-width="0.9"/>
<rect x="100.05" y="281.29" width="2.5" height="2.4" fill="#ff5c2c" stroke="#f7220a" stroke-width="0.9"/>
<rect x="100.45" y="281.41" width="2.5" height="2.4" fill="#ff5c2c" stroke="#f7220a" stroke-width="0.9"/>
<rect x="101.55" y="281.90" width="2.5" height="2.4" fill="#ff5c2c" stroke="#f7220a" stroke-width="0.9"/>
<rect x="106.05" y="282.60" width="2.5" height="2.4" fill="#ff5c2c" stroke="#f7220a" stroke-width="0.9"/>
<rect x="110.45" y="283.00" width="2.5" height="2.4" fill="#ff5c2c" stroke="#f7220a" stroke-width="0.9"/>
<rect x="115.15" y="283.10" width="2.5" height="2.4" fill="#ff5c2c" stroke="#f7220a" stroke-width="0.9"/>
<rect x="120.25" y="282.80" width="2.5" height="2.4" fill="#ff5c2c" stroke="#f7220a" stroke-width="0.9"/>
<rect x="125.35" y="282.20" width="2.5" height="2.4" fill="#ff5c2c" stroke="#f7220a" stroke-width="0.9"/>
<rect x="131.15" y="281.00" width="2.5" height="2.4" fill="#ff5c2c" stroke="#f7220a" stroke-width="0.9"/>
<rect x="137.25" y="278.80" width="2.5" height="2.4" fill="#ff5c2c" stroke="#f7220a" stroke-width="0.9"/>
<rect x="143.95" y="275.60" width="2.5" height="2.4" fill="#ff5c2c" stroke="#f7220a" stroke-width="0.9"/>
<rect x="151.05" y="271.30" width="2.5" height="2.4" fill="#ff5c2c" stroke="#f7220a" stroke-width="0.9"/>
<rect x="158.25" y="266.30" width="2.5" height="2.4" fill="#ff5c2c" stroke="#f7220a" stroke-width="0.9"/>
<rect x="165.85" y="260.30" width="2.5" height="2.4" fill="#ff5c2c" stroke="#f7220a" stroke-width="0.9"/>
<rect x="174.45" y="251.10" width="2.5" height="2.4" fill="#ff5c2c" stroke="#f7220a" stroke-width="0.9"/>
<rect x="183.15" y="240.50" width="2.5" height="2.4" fill="#ff5c2c" stroke="#f7220a" stroke-width="0.9"/>
<rect x="192.65" y="229.90" width="2.5" height="2.4" fill="#ff5c2c" stroke="#f7220a" stroke-width="0.9"/>
<rect x="202.45" y="219.30" width="2.5" height="2.4" fill="#ff5c2c" stroke="#f7220a" stroke-width="0.9"/>
<rect x="212.85" y="206.20" width="2.5" height="2.4" fill="#ff5c2c" stroke="#f7220a" stroke-width="0.9"/>
<rect x="223.75" y="191.40" width="2.5" height="2.4" fill="#ff5c2c" stroke="#f7220a" stroke-width="0.9"/>
<rect x="235.45" y="175.40" width="2.5" height="2.4" fill="#ff5c2c" stroke="#f7220a" stroke-width="0.9"/>
<rect x="248.05" y="160.60" width="2.5" height="2.4" fill="#ff5c2c" stroke="#f7220a" stroke-width="0.9"/>
<rect x="261.35" y="144.10" width="2.5" height="2.4" fill="#ff5c2c" stroke="#f7220a" stroke-width="0.9"/>
<rect x="276.65" y="125.40" width="2.5" height="2.4" fill="#ff5c2c" stroke="#f7220a" stroke-width="0.9"/>
<rect x="292.35" y="107.80" width="2.5" height="2.4" fill="#ff5c2c" stroke="#f7220a" stroke-width="0.9"/>
<rect x="308.75" y="89.60" width="2.5" height="2.4" fill="#ff5c2c" stroke="#f7220a" stroke-width="0.9"/>
<rect x="325.95" y="72.30" width="2.5" height="2.4" fill="#ff5c2c" stroke="#f7220a" stroke-width="0.9"/>
<rect x="342.65" y="58.90" width="2.5" height="2.4" fill="#ff5c2c" stroke="#f7220a" stroke-width="0.9"/>
<rect x="361.75" y="41.40" width="2.5" height="2.4" fill="#ff5c2c" stroke="#f7220a" stroke-width="0.9"/>
<rect x="382.15" y="23.20" width="2.5" height="2.4" fill="#ff5c2c" stroke="#f7220a" stroke-width="0.9"/>
<path clip-path="url(#cm)" d="M36.00 304.50 L36.94 304.49 L37.89 304.48 L38.83 304.47 L39.77 304.45 L40.71 304.44 L41.66 304.43 L42.60 304.41 L43.54 304.40 L44.49 304.39 L45.43 304.38 L46.37 304.37 L47.31 304.36 L48.26 304.35 L49.20 304.34 L50.14 304.33 L51.09 304.32 L52.03 304.31 L52.97 304.30 L53.91 304.29 L54.86 304.29 L55.80 304.28 L56.74 304.27 L57.69 304.27 L58.63 304.26 L59.57 304.25 L60.51 304.25 L61.46 304.24 L62.40 304.23 L63.34 304.23 L64.29 304.22 L65.23 304.22 L66.17 304.21 L67.11 304.20 L68.06 304.20 L69.00 304.19 L69.94 304.18 L70.89 304.18 L71.83 304.17 L72.77 304.15 L73.71 304.14 L74.66 304.13 L75.60 304.11 L76.54 304.10 L77.49 304.09 L78.43 304.07 L79.37 304.06 L80.31 304.04 L81.26 304.03 L82.20 304.01 L83.14 304.00 L84.09 303.98 L85.03 303.96 L85.97 303.95 L86.91 303.93 L87.86 303.91 L88.80 303.89 L89.74 303.86 L90.69 303.84 L91.63 303.82 L92.57 303.79 L93.51 303.76 L94.46 303.73 L95.40 303.69 L96.34 303.66 L97.28 303.62 L98.23 303.58 L99.17 303.53 L100.11 303.48 L101.06 303.43 L102.00 303.38 L102.94 303.32 L103.88 303.26 L104.83 303.20 L105.77 303.13 L106.71 303.06 L107.66 302.97 L108.60 302.87 L109.54 302.77 L110.48 302.66 L111.43 302.55 L112.37 302.42 L113.31 302.29 L114.26 302.15 L115.20 302.00 L116.14 301.83 L117.08 301.66 L118.03 301.48 L118.97 301.29 L119.91 301.08 L120.86 300.87 L121.80 300.64 L122.74 300.40 L123.68 300.14 L124.63 299.87 L125.57 299.59 L126.51 299.29 L127.46 298.98 L128.40 298.65 L129.34 298.31 L130.28 297.95 L131.23 297.58 L132.17 297.19 L133.11 296.79 L134.06 296.37 L135.00 295.95 L135.94 295.51 L136.88 295.06 L137.83 294.59 L138.77 294.09 L139.71 293.56 L140.66 293.01 L141.60 292.41 L142.54 291.78 L143.48 291.11 L144.43 290.42 L145.37 289.70 L146.31 288.97 L147.26 288.24 L148.20 287.49 L149.14 286.75 L150.08 285.99 L151.03 285.23 L151.97 284.45 L152.91 283.65 L153.86 282.84 L154.80 282.00 L155.74 281.15 L156.68 280.28 L157.63 279.39 L158.57 278.48 L159.51 277.55 L160.46 276.61 L161.40 275.66 L162.34 274.69 L163.28 273.71 L164.23 272.72 L165.17 271.72 L166.11 270.70 L167.06 269.68 L168.00 268.66 L168.94 267.62 L169.88 266.58 L170.83 265.54 L171.77 264.48 L172.71 263.42 L173.66 262.36 L174.60 261.28 L175.54 260.21 L176.48 259.12 L177.43 258.03 L178.37 256.93 L179.31 255.83 L180.26 254.72 L181.20 253.61 L182.14 252.49 L183.08 251.36 L184.03 250.23 L184.97 249.09 L185.91 247.95 L186.86 246.80 L187.80 245.65 L188.74 244.49 L189.68 243.33 L190.63 242.16 L191.57 240.98 L192.51 239.81 L193.46 238.62 L194.40 237.44 L195.34 236.25 L196.28 235.06 L197.23 233.86 L198.17 232.66 L199.11 231.46 L200.06 230.26 L201.00 229.06 L201.94 227.85 L202.88 226.64 L203.83 225.42 L204.77 224.21 L205.71 222.99 L206.66 221.77 L207.60 220.55 L208.54 219.33 L209.48 218.10 L210.43 216.88 L211.37 215.65 L212.31 214.42 L213.26 213.19 L214.20 211.96 L215.14 210.73 L216.08 209.49 L217.03 208.26 L217.97 207.02 L218.91 205.79 L219.85 204.55 L220.80 203.31 L221.74 202.07 L222.68 200.83 L223.63 199.59 L224.57 198.35 L225.51 197.11 L226.45 195.87 L227.40 194.63 L228.34 193.39 L229.28 192.15 L230.23 190.91 L231.17 189.67 L232.11 188.44 L233.05 187.20 L234.00 185.96 L234.94 184.72 L235.88 183.49 L236.83 182.25 L237.77 181.02 L238.71 179.78 L239.65 178.55 L240.60 177.32 L241.54 176.09 L242.48 174.86 L243.43 173.64 L244.37 172.41 L245.31 171.19 L246.25 169.97 L247.20 168.75 L248.14 167.53 L249.08 166.32 L250.03 165.10 L250.97 163.89 L251.91 162.68 L252.85 161.48 L253.80 160.27 L254.74 159.07 L255.68 157.87 L256.63 156.68 L257.57 155.48 L258.51 154.29 L259.45 153.11 L260.40 151.92 L261.34 150.74 L262.28 149.57 L263.23 148.39 L264.17 147.22 L265.11 146.05 L266.05 144.89 L267.00 143.73 L267.94 142.57 L268.88 141.41 L269.83 140.26 L270.77 139.11 L271.71 137.97 L272.65 136.83 L273.60 135.69 L274.54 134.55 L275.48 133.42 L276.43 132.29 L277.37 131.17 L278.31 130.05 L279.25 128.93 L280.20 127.82 L281.14 126.71 L282.08 125.60 L283.03 124.50 L283.97 123.40 L284.91 122.30 L285.85 121.21 L286.80 120.12 L287.74 119.04 L288.68 117.96 L289.63 116.88 L290.57 115.81 L291.51 114.74 L292.45 113.67 L293.40 112.61 L294.34 111.55 L295.28 110.50 L296.23 109.45 L297.17 108.40 L298.11 107.36 L299.05 106.33 L300.00 105.29 L300.94 104.26 L301.88 103.24 L302.83 102.22 L303.77 101.20 L304.71 100.19 L305.65 99.18 L306.60 98.17 L307.54 97.17 L308.48 96.18 L309.43 95.19 L310.37 94.21 L311.31 93.24 L312.25 92.28 L313.20 91.32 L314.14 90.37 L315.08 89.43 L316.03 88.49 L316.97 87.56 L317.91 86.63 L318.85 85.71 L319.80 84.79 L320.74 83.88 L321.68 82.98 L322.63 82.08 L323.57 81.19 L324.51 80.30 L325.45 79.41 L326.40 78.53 L327.34 77.66 L328.28 76.79 L329.23 75.93 L330.17 75.07 L331.11 74.22 L332.05 73.37 L333.00 72.52 L333.94 71.68 L334.88 70.85 L335.82 70.02 L336.77 69.19 L337.71 68.37 L338.65 67.55 L339.60 66.74 L340.54 65.93 L341.48 65.13 L342.42 64.33 L343.37 63.53 L344.31 62.74 L345.25 61.95 L346.20 61.16 L347.14 60.38 L348.08 59.60 L349.02 58.83 L349.97 58.06 L350.91 57.30 L351.85 56.53 L352.80 55.77 L353.74 55.02 L354.68 54.26 L355.62 53.52 L356.57 52.77 L357.51 52.03 L358.45 51.29 L359.40 50.55 L360.34 49.82 L361.28 49.09 L362.22 48.36 L363.17 47.64 L364.11 46.91 L365.05 46.20 L366.00 45.48 L366.94 44.77 L367.88 44.06 L368.82 43.35 L369.77 42.64 L370.71 41.94 L371.65 41.24 L372.60 40.54 L373.54 39.85 L374.48 39.15 L375.42 38.46 L376.37 37.77 L377.31 37.09 L378.25 36.40 L379.20 35.72 L380.14 35.04 L381.08 34.36 L382.02 33.68 L382.97 33.01 L383.91 32.33 L384.85 31.66 L385.80 30.99 L386.74 30.32 L387.68 29.66 L388.62 28.99 L389.57 28.33 L390.51 27.67 L391.45 27.01 L392.40 26.35 L393.34 25.69 L394.28 25.03 L395.22 24.38 L396.17 23.72 L397.11 23.07 L398.05 22.42 L399.00 21.77 L399.94 21.12 L400.88 20.47 L401.82 19.82 L402.77 19.17 L403.71 18.53 L404.65 17.88 L405.60 17.23 L406.54 16.59 L407.48 15.95 L408.42 15.30 L409.37 14.66 L410.31 14.02 L411.25 13.37 L412.20 12.73" fill="none" stroke="#84105a" stroke-width="1.3" stroke-dasharray="4.3 1.9"/>
<rect x="41.3" y="6.2" width="154.89999999999998" height="221.20000000000002" fill="#fff"/>
<path d="M41.30 227.4 v-3.6 M41.30 6.2 v3.6 M80.00 227.4 v-3.6 M80.00 6.2 v3.6 M118.70 227.4 v-3.6 M118.70 6.2 v3.6 M157.40 227.4 v-3.6 M157.40 6.2 v3.6 M196.10 227.4 v-3.6 M196.10 6.2 v3.6 M41.3 227.90 h3.6 M196.2 227.90 h-3.6 M41.3 183.62 h3.6 M196.2 183.62 h-3.6 M41.3 139.34 h3.6 M196.2 139.34 h-3.6 M41.3 95.06 h3.6 M196.2 95.06 h-3.6 M41.3 50.78 h3.6 M196.2 50.78 h-3.6 M41.3 6.50 h3.6 M196.2 6.50 h-3.6" stroke="#000" stroke-width="1.35" fill="none"/>
<path d="M49.04 227.4 v-2.0 M49.04 6.2 v2.0 M56.78 227.4 v-2.0 M56.78 6.2 v2.0 M64.52 227.4 v-2.0 M64.52 6.2 v2.0 M72.26 227.4 v-2.0 M72.26 6.2 v2.0 M87.74 227.4 v-2.0 M87.74 6.2 v2.0 M95.48 227.4 v-2.0 M95.48 6.2 v2.0 M103.22 227.4 v-2.0 M103.22 6.2 v2.0 M110.96 227.4 v-2.0 M110.96 6.2 v2.0 M126.44 227.4 v-2.0 M126.44 6.2 v2.0 M134.18 227.4 v-2.0 M134.18 6.2 v2.0 M141.92 227.4 v-2.0 M141.92 6.2 v2.0 M149.66 227.4 v-2.0 M149.66 6.2 v2.0 M165.14 227.4 v-2.0 M165.14 6.2 v2.0 M172.88 227.4 v-2.0 M172.88 6.2 v2.0 M180.62 227.4 v-2.0 M180.62 6.2 v2.0 M188.36 227.4 v-2.0 M188.36 6.2 v2.0 M41.3 205.76 h2.0 M196.2 205.76 h-2.0 M41.3 161.48 h2.0 M196.2 161.48 h-2.0 M41.3 117.20 h2.0 M196.2 117.20 h-2.0 M41.3 72.92 h2.0 M196.2 72.92 h-2.0 M41.3 28.64 h2.0 M196.2 28.64 h-2.0" stroke="#000" stroke-width="1.0" fill="none"/>
<rect x="41.3" y="6.2" width="154.89999999999998" height="221.20000000000002" fill="none" stroke="#000" stroke-width="1.4"/>
<path clip-path="url(#ci)" d="M41.30 227.84 L41.83 227.80 L42.36 227.76 L42.89 227.72 L43.42 227.68 L43.95 227.65 L44.48 227.61 L45.01 227.57 L45.55 227.53 L46.08 227.49 L46.61 227.45 L47.14 227.41 L47.67 227.37 L48.20 227.33 L48.73 227.29 L49.26 227.25 L49.79 227.21 L50.32 227.17 L50.85 227.12 L51.38 227.08 L51.91 227.04 L52.44 227.00 L52.97 226.96 L53.51 226.91 L54.04 226.87 L54.57 226.83 L55.10 226.78 L55.63 226.74 L56.16 226.70 L56.69 226.65 L57.22 226.61 L57.75 226.56 L58.28 226.52 L58.81 226.47 L59.34 226.43 L59.87 226.38 L60.40 226.33 L60.93 226.29 L61.47 226.24 L62.00 226.19 L62.53 226.14 L63.06 226.09 L63.59 226.05 L64.12 226.00 L64.65 225.95 L65.18 225.90 L65.71 225.85 L66.24 225.79 L66.77 225.74 L67.30 225.69 L67.83 225.64 L68.36 225.59 L68.89 225.53 L69.43 225.48 L69.96 225.42 L70.49 225.37 L71.02 225.31 L71.55 225.26 L72.08 225.20 L72.61 225.15 L73.14 225.09 L73.67 225.03 L74.20 224.97 L74.73 224.91 L75.26 224.85 L75.79 224.79 L76.32 224.73 L76.85 224.67 L77.39 224.61 L77.92 224.55 L78.45 224.49 L78.98 224.42 L79.51 224.36 L80.04 224.29 L80.57 224.23 L81.10 224.16 L81.63 224.10 L82.16 224.03 L82.69 223.96 L83.22 223.89 L83.75 223.83 L84.28 223.76 L84.81 223.68 L85.35 223.61 L85.88 223.54 L86.41 223.47 L86.94 223.40 L87.47 223.32 L88.00 223.25 L88.53 223.17 L89.06 223.10 L89.59 223.02 L90.12 222.94 L90.65 222.86 L91.18 222.79 L91.71 222.71 L92.24 222.63 L92.77 222.54 L93.31 222.46 L93.84 222.38 L94.37 222.30 L94.90 222.21 L95.43 222.13 L95.96 222.04 L96.49 221.95 L97.02 221.87 L97.55 221.78 L98.08 221.69 L98.61 221.60 L99.14 221.51 L99.67 221.41 L100.20 221.32 L100.73 221.23 L101.27 221.13 L101.80 221.04 L102.33 220.94 L102.86 220.84 L103.39 220.73 L103.92 220.63 L104.45 220.52 L104.98 220.41 L105.51 220.30 L106.04 220.19 L106.57 220.07 L107.10 219.95 L107.63 219.82 L108.16 219.70 L108.69 219.57 L109.23 219.43 L109.76 219.29 L110.29 219.15 L110.82 219.00 L111.35 218.85 L111.88 218.69 L112.41 218.53 L112.94 218.36 L113.47 218.19 L114.00 218.01 L114.53 217.83 L115.06 217.64 L115.59 217.44 L116.12 217.24 L116.65 217.04 L117.19 216.82 L117.72 216.60 L118.25 216.37 L118.78 216.14 L119.31 215.90 L119.84 215.65 L120.37 215.40 L120.90 215.13 L121.43 214.86 L121.96 214.58 L122.49 214.30 L123.02 214.00 L123.55 213.70 L124.08 213.38 L124.62 213.06 L125.15 212.73 L125.68 212.39 L126.21 212.05 L126.74 211.69 L127.27 211.32 L127.80 210.94 L128.33 210.56 L128.86 210.16 L129.39 209.75 L129.92 209.33 L130.45 208.90 L130.98 208.45 L131.51 208.00 L132.04 207.53 L132.58 207.05 L133.11 206.56 L133.64 206.05 L134.17 205.54 L134.70 205.00 L135.23 204.45 L135.76 203.89 L136.29 203.32 L136.82 202.72 L137.35 202.12 L137.88 201.49 L138.41 200.86 L138.94 200.20 L139.47 199.53 L140.00 198.84 L140.54 198.13 L141.07 197.41 L141.60 196.67 L142.13 195.91 L142.66 195.13 L143.19 194.33 L143.72 193.52 L144.25 192.68 L144.78 191.83 L145.31 190.95 L145.84 190.06 L146.37 189.14 L146.90 188.20 L147.43 187.25 L147.96 186.27 L148.50 185.26 L149.03 184.24 L149.56 183.19 L150.09 182.12 L150.62 181.03 L151.15 179.92 L151.68 178.78 L152.21 177.61 L152.74 176.42 L153.27 175.21 L153.80 173.97 L154.33 172.71 L154.86 171.42 L155.39 170.11 L155.92 168.77 L156.46 167.40 L156.99 166.01 L157.52 164.58 L158.05 163.14 L158.58 161.66 L159.11 160.15 L159.64 158.62 L160.17 157.07 L160.70 155.48 L161.23 153.88 L161.76 152.25 L162.29 150.60 L162.82 148.93 L163.35 147.24 L163.88 145.53 L164.42 143.81 L164.95 142.07 L165.48 140.32 L166.01 138.55 L166.54 136.77 L167.07 134.97 L167.60 133.16 L168.13 131.33 L168.66 129.47 L169.19 127.58 L169.72 125.65 L170.25 123.69 L170.78 121.67 L171.31 119.60 L171.84 117.48 L172.38 115.29 L172.91 113.04 L173.44 110.72 L173.97 108.32 L174.50 105.84 L175.03 103.27 L175.56 100.62 L176.09 97.91 L176.62 95.12 L177.15 92.28 L177.68 89.39 L178.21 86.45 L178.74 83.47 L179.27 80.47 L179.80 77.44 L180.34 74.40 L180.87 71.34 L181.40 68.29 L181.93 65.24 L182.46 62.20 L182.99 59.17 L183.52 56.15 L184.05 53.14 L184.58 50.12 L185.11 47.10 L185.64 44.07 L186.17 41.03 L186.70 37.97 L187.23 34.89 L187.76 31.79 L188.30 28.66 L188.83 25.49 L189.36 22.29 L189.89 19.05 L190.42 15.77 L190.95 12.43 L191.48 9.05 L192.01 5.62 L192.54 2.15 L193.07 -1.37 L193.60 -4.94 L194.13 -8.55 L194.66 -12.20 L195.19 -15.91 L195.72 -19.65 L196.26 -23.44 L196.79 -27.28 L197.32 -31.15 L197.85 -35.07 L198.38 -39.04 L198.91 -43.04 L199.44 -47.09 L199.97 -51.18" fill="none" stroke="#9e170b" stroke-width="1.4"/>
<circle cx="55.77" cy="226.55" r="1.75" fill="none" stroke="#1a1a9e" stroke-width="1.5"/>
<circle cx="57.17" cy="226.43" r="1.75" fill="none" stroke="#1a1a9e" stroke-width="1.5"/>
<circle cx="61.04" cy="226.12" r="1.75" fill="none" stroke="#1a1a9e" stroke-width="1.5"/>
<circle cx="64.91" cy="225.84" r="1.75" fill="none" stroke="#1a1a9e" stroke-width="1.5"/>
<circle cx="68.78" cy="225.56" r="1.75" fill="none" stroke="#1a1a9e" stroke-width="1.5"/>
<circle cx="72.65" cy="225.27" r="1.75" fill="none" stroke="#1a1a9e" stroke-width="1.5"/>
<circle cx="76.52" cy="224.93" r="1.75" fill="none" stroke="#1a1a9e" stroke-width="1.5"/>
<circle cx="80.39" cy="224.54" r="1.75" fill="none" stroke="#1a1a9e" stroke-width="1.5"/>
<circle cx="84.26" cy="224.03" r="1.75" fill="none" stroke="#1a1a9e" stroke-width="1.5"/>
<circle cx="88.13" cy="223.43" r="1.75" fill="none" stroke="#1a1a9e" stroke-width="1.5"/>
<circle cx="92.00" cy="222.74" r="1.75" fill="none" stroke="#1a1a9e" stroke-width="1.5"/>
<circle cx="95.87" cy="221.98" r="1.75" fill="none" stroke="#1a1a9e" stroke-width="1.5"/>
<circle cx="99.74" cy="221.18" r="1.75" fill="none" stroke="#1a1a9e" stroke-width="1.5"/>
<circle cx="103.61" cy="220.35" r="1.75" fill="none" stroke="#1a1a9e" stroke-width="1.5"/>
<circle cx="107.48" cy="219.46" r="1.75" fill="none" stroke="#1a1a9e" stroke-width="1.5"/>
<circle cx="111.35" cy="218.47" r="1.75" fill="none" stroke="#1a1a9e" stroke-width="1.5"/>
<circle cx="115.22" cy="217.32" r="1.75" fill="none" stroke="#1a1a9e" stroke-width="1.5"/>
<circle cx="119.09" cy="215.96" r="1.75" fill="none" stroke="#1a1a9e" stroke-width="1.5"/>
<circle cx="127.20" cy="211.30" r="1.75" fill="none" stroke="#1a1a9e" stroke-width="1.5"/>
<circle cx="134.90" cy="204.90" r="1.75" fill="none" stroke="#1a1a9e" stroke-width="1.5"/>
<circle cx="142.80" cy="195.10" r="1.75" fill="none" stroke="#1a1a9e" stroke-width="1.5"/>
<circle cx="150.50" cy="180.80" r="1.75" fill="none" stroke="#1a1a9e" stroke-width="1.5"/>
<circle cx="158.60" cy="162.10" r="1.75" fill="none" stroke="#1a1a9e" stroke-width="1.5"/>
<circle cx="166.50" cy="136.40" r="1.75" fill="none" stroke="#1a1a9e" stroke-width="1.5"/>
<circle cx="174.50" cy="106.40" r="1.75" fill="none" stroke="#1a1a9e" stroke-width="1.5"/>
<circle cx="182.10" cy="63.60" r="1.75" fill="none" stroke="#1a1a9e" stroke-width="1.5"/>
<circle cx="190.30" cy="17.00" r="1.75" fill="none" stroke="#1a1a9e" stroke-width="1.5"/>
<text x="34.5" y="315.7" font-size="11.8" text-anchor="middle">0</text>
<text x="96.8" y="315.7" font-size="11.8" text-anchor="middle">10</text>
<text x="158.0" y="315.7" font-size="11.8" text-anchor="middle">20</text>
<text x="219.2" y="315.7" font-size="11.8" text-anchor="middle">30</text>
<text x="280.3" y="315.7" font-size="11.8" text-anchor="middle">40</text>
<text x="341.5" y="315.7" font-size="11.8" text-anchor="middle">50</text>
<text x="402.7" y="315.7" font-size="11.8" text-anchor="middle">60</text>
<text x="32.4" y="308.7" font-size="12.3" text-anchor="end">0</text>
<text x="32.4" y="225.9" font-size="12.3" text-anchor="end">5</text>
<text x="32.4" y="143.0" font-size="12.3" text-anchor="end">10</text>
<text x="32.4" y="60.2" font-size="12.3" text-anchor="end">15</text>
<text x="220.0" y="329" font-size="11.9" text-anchor="middle">T (K)</text>
<text transform="translate(13.6,156) rotate(-90)" font-size="12.3" text-anchor="middle"><tspan font-style="italic" font-size="13">C</tspan><tspan font-style="italic" font-size="9.8" dy="3.0">P</tspan><tspan dy="-3.0"> (J/(K mol))</tspan></text>
<text x="80.0" y="240" font-size="12.3" text-anchor="middle">5</text>
<text x="118.7" y="240" font-size="12.3" text-anchor="middle">10</text>
<text x="157.4" y="240" font-size="12.3" text-anchor="middle">15</text>
<text x="47.5" y="187.9" font-size="12.3">0.2</text>
<text x="47.5" y="143.6" font-size="12.3">0.4</text>
<text x="47.5" y="99.4" font-size="12.3">0.6</text>
<text x="47.5" y="55.1" font-size="12.3">0.8</text>
<text x="75.5" y="27.9" font-size="14.5">LaB<tspan font-size="11.8" dy="2.6">6</tspan></text>
<text x="75.2" y="53.8" font-size="10.8">Fit for T &lt; 20 K</text>
<text x="75.2" y="68.9" font-size="10.8">γ = 2.3 mJ/(K<tspan font-size="8" dy="-3.6">2</tspan><tspan dy="3.6"> mol)</tspan></text>
<text x="75.2" y="82.0" font-size="10.8" word-spacing="-0.5">m/M = 2.141</text>
<text x="75.2" y="95.9" font-size="10.8"><tspan font-style="italic" font-weight="normal" font-size="11.8" stroke="#000" stroke-width="0.45">ħ</tspan><tspan font-style="italic" font-weight="normal" font-size="11.8" stroke="#000" stroke-width="0.45" dx="1.7">ω</tspan><tspan font-size="8.2" dy="2.4" dx="-1.2">0</tspan><tspan dy="-2.4" word-spacing="-0.4"> = 14 meV</tspan></text>
<text x="75.2" y="111.1" font-size="10.8"><tspan font-style="italic" font-weight="normal" font-size="11.8" stroke="#000" stroke-width="0.45">ħ</tspan><tspan font-style="italic" font-weight="normal" font-size="11.8" stroke="#000" stroke-width="0.45" dx="1.7">Ω</tspan><tspan font-size="8.2" dy="2.4" dx="-1.6">0</tspan><tspan dy="-2.4" word-spacing="-0.4"> = 35.9 meV</tspan></text>
<path d="M84.7 102.6 q1.3 -1.9 2.7 -0.7 t2.6 -0.9" fill="none" stroke="#000" stroke-width="0.95"/>
<circle cx="259.2" cy="234.4" r="1.75" fill="none" stroke="#1a1a9e" stroke-width="1.5"/>
<path d="M247.1 251 H270.1" stroke="#9e170b" stroke-width="1.4"/>
<rect x="257.45" y="266.55" width="3.1" height="2.7" fill="#ff5c2c" stroke="#f7220a" stroke-width="0.9"/>
<path d="M247.4 284.05 H270.1" stroke="#84105a" stroke-width="1.4" stroke-dasharray="4.4 1.75"/>
<text x="274.9" y="237.0" font-size="10.8">LaB<tspan font-size="9.2" dy="2.2">6</tspan><tspan dy="-2.2"> (exp.)</tspan></text>
<text x="274.9" y="253.4" font-size="10.8">LaB<tspan font-size="9.2" dy="2.2">6</tspan><tspan dy="-2.2" word-spacing="-0.8"> (fit for T &lt; 20 K)</tspan></text>
<text x="274.9" y="269.8" font-size="10.8">CeB<tspan font-size="9.2" dy="2.2">6</tspan><tspan dy="-2.2"> (exp.)</tspan></text>
<text x="274.9" y="285.8" font-size="10.8">CeB<tspan font-size="9.2" dy="2.2">6</tspan><tspan dy="-2.2"> (</tspan><tspan font-style="italic" font-weight="normal" font-size="11.8" stroke="#000" stroke-width="0.45">ħ</tspan><tspan font-style="italic" font-weight="normal" font-size="11.8" stroke="#000" stroke-width="0.45" dx="1.2">ω</tspan><tspan font-size="8.2" dy="2.2" dx="-1.0">0</tspan><tspan dy="-2.2"> = 12.7 meV)</tspan></text>
</svg>
</body></html>
